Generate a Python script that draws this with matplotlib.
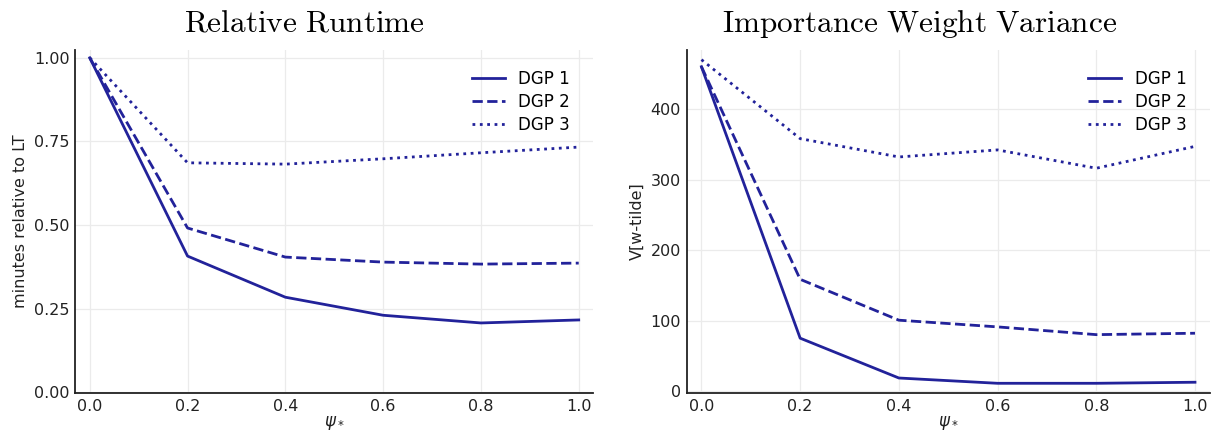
import matplotlib
matplotlib.use('Agg')
import matplotlib.pyplot as plt

psi = [0.0, 0.2, 0.4, 0.6, 0.8, 1.0]

runtime_dgp1 = [1.0, 0.407, 0.284, 0.230, 0.207, 0.216]
runtime_dgp2 = [1.0, 0.491, 0.404, 0.389, 0.383, 0.386]
runtime_dgp3 = [1.0, 0.686, 0.682, 0.698, 0.716, 0.733]

var_dgp1 = [460, 75, 18.5, 11, 11, 12.5]
var_dgp2 = [460, 158.5, 100.5, 91, 80, 82]
var_dgp3 = [470, 358, 332, 342, 316, 347]

labels = ['DGP 1', 'DGP 2', 'DGP 3']
styles = ['-', '--', ':']
color = '#22229a'

plt.rcParams['mathtext.fontset'] = 'cm'

fig = plt.figure(figsize=(12.11, 4.33), dpi=100)
ax1 = fig.add_axes([0.062, 0.092, 0.428, 0.793])
ax2 = fig.add_axes([0.567, 0.092, 0.432, 0.793])


def style(ax):
    for s in ['top', 'right']:
        ax.spines[s].set_visible(False)
    for s in ['left', 'bottom']:
        ax.spines[s].set_linewidth(1.3)
        ax.spines[s].set_color('#222222')
    ax.tick_params(length=0, labelsize=11.5, pad=4, colors='#222222')
    ax.grid(True, color='#ebebeb', linewidth=0.9)
    ax.set_axisbelow(True)
    ax.set_xticks(psi)
    ax.set_xlim(-0.03, 1.03)
    ax.set_xlabel(r'$\psi_*$', fontsize=12, labelpad=0,
                  math_fontfamily='dejavusans', color='#222222')
    ax.legend(frameon=False, loc='upper right', fontsize=12,
              bbox_to_anchor=(0.968, 0.962), borderaxespad=0,
              handlelength=2.0, handletextpad=0.8, labelspacing=0.32)


for y, lab, ls in zip([runtime_dgp1, runtime_dgp2, runtime_dgp3], labels, styles):
    ax1.plot(psi, y, ls, color=color, lw=2, label=lab)
ax1.set_ylim(-0.003, 1.024)
ax1.set_yticks([0, 0.25, 0.5, 0.75, 1.0])
ax1.set_yticklabels(['0.00', '0.25', '0.50', '0.75', '1.00'])
ax1.set_ylabel('minutes relative to LT', fontsize=11.5, color='#222222')
ax1.set_title(r'$\mathrm{Relative\ Runtime}$', fontsize=22.5, pad=13, x=0.442)
style(ax1)

for y, lab, ls in zip([var_dgp1, var_dgp2, var_dgp3], labels, styles):
    ax2.plot(psi, y, ls, color=color, lw=2, label=lab)
ax2.set_ylim(-3, 484)
ax2.set_yticks([0, 100, 200, 300, 400])
ax2.set_ylabel('V[w-tilde]', fontsize=11.5, color='#222222')
ax2.set_title(r'$\mathrm{Importance\ Weight\ Variance}$', fontsize=22.5, pad=13, x=0.445)
style(ax2)

fig.savefig('out.png', dpi=100)
